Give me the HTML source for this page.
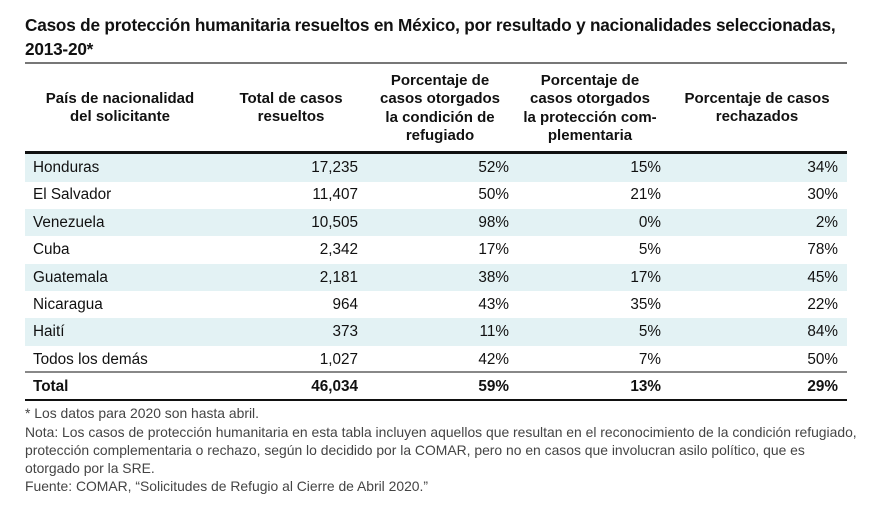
<!DOCTYPE html>
<html><head><meta charset="utf-8"><style>
body{margin:0;width:881px;height:524px;background:#fff;font-family:"Liberation Sans",sans-serif;color:#111;position:relative;overflow:hidden}
.a{position:absolute;white-space:nowrap}
.t{left:25px;font-size:17.2px;font-weight:bold;letter-spacing:-0.2px}
.h{font-size:15px;font-weight:bold;text-align:center;line-height:18.3px;transform:translateX(-50%)}
.row{position:absolute;left:25px;width:822px;height:27.5px;font-size:15.3px;line-height:28px}
.row span{position:absolute}
.s{background:#e3f2f4}
.f{left:25px;font-size:13.9px;color:#444;line-height:18px}
</style></head><body>
<div class="a t" style="top:15px">Casos de protección humanitaria resueltos en México, por resultado y nacionalidades seleccionadas,</div>
<div class="a t" style="top:39px">2013-20*</div>
<div class="a" style="left:25px;top:62px;width:822px;height:2px;background:#777"></div>
<div class="a h" style="left:120px;top:90px">País de nacionalidad<br>del solicitante</div>
<div class="a h" style="left:291px;top:90px">Total de casos<br>resueltos</div>
<div class="a h" style="left:440px;top:72px">Porcentaje de<br>casos otorgados<br>la condición de<br>refugiado</div>
<div class="a h" style="left:590px;top:72px">Porcentaje de<br>casos otorgados<br>la protección com-<br>plementaria</div>
<div class="a h" style="left:757px;top:90px">Porcentaje de casos<br>rechazados</div>
<div class="a" style="left:25px;top:151px;width:822px;height:3px;background:#111"></div>
<div id="rows"></div>
<div class="a" style="left:25px;top:371px;width:822px;height:2px;background:#888"></div>
<div class="a" style="left:25px;top:399px;width:822px;height:1.5px;background:#111"></div>
<div class="a f" style="top:404px">* Los datos para 2020 son hasta abril.</div>
<div class="a f" style="top:423px">Nota: Los casos de protección humanitaria en esta tabla incluyen aquellos que resultan en el reconocimiento de la condición refugiado,<br>protección complementaria o rechazo, según lo decidido por la COMAR, pero no en casos que involucran asilo político, que es<br>otorgado por la SRE.</div>
<div class="a f" style="top:477px">Fuente: COMAR, “Solicitudes de Refugio al Cierre de Abril 2020.”</div>
<script>
var countries=["Honduras","El Salvador","Venezuela","Cuba","Guatemala","Nicaragua","Haití","Todos los demás","Total"];
var totals=["17,235","11,407","10,505","2,342","2,181","964","373","1,027","46,034"];
var refugee=["52%","50%","98%","17%","38%","43%","11%","42%","59%"];
var complementary=["15%","21%","0%","5%","17%","35%","5%","7%","13%"];
var rejected=["34%","30%","2%","78%","45%","22%","84%","50%","29%"];
var rights=[333,484,636,813];
var c=document.getElementById('rows');
for(var i=0;i<countries.length;i++){
  var r=document.createElement('div');
  var last=i===countries.length-1;
  r.className='row'+(i%2===0&&!last?' s':'');
  r.style.top=(last?373:154+i*27.4)+'px';
  if(last)r.style.fontWeight='bold';
  
  
  var n=document.createElement('span');n.style.left='8px';n.textContent=countries[i];
  
  
  r.appendChild(n);
  var vals=[totals[i],refugee[i],complementary[i],rejected[i]];
  for(var j=0;j<4;j++){
    var s=document.createElement('span');s.style.right=(822-rights[j])+'px';s.textContent=vals[j];
    
    
    r.appendChild(s);
  }
  c.appendChild(r);
}
</script>
</body></html>
